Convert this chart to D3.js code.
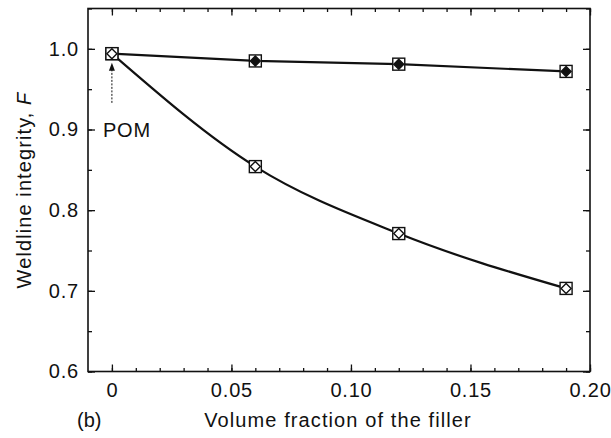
<!DOCTYPE html>
<meta charset="utf-8">
<style>
  body { margin: 0; background: #fff; }
  svg text { font-family: "Liberation Sans", Arial, sans-serif; fill: #111; }
</style>
<body>
<script src="https://cdn.jsdelivr.net/npm/d3@7"></script>
<script>
// data
var fillerX = [0, 0.06, 0.12, 0.19];
var fUpper = [0.994, 0.985, 0.981, 0.972];   // filled diamond series
var fLower = [0.994, 0.854, 0.771, 0.703];   // open diamond series
var xTickVals = [0, 0.05, 0.10, 0.15, 0.20];
var xTickLabels = ["0", "0.05", "0.10", "0.15", "0.20"];
var yTickVals = [0.6, 0.7, 0.8, 0.9, 1.0];
var yTickLabels = ["0.6", "0.7", "0.8", "0.9", "1.0"];

var W = 611, H = 438;
var pLeft = 88, pRight = 590, pTop = 8.5, pBottom = 371.5;
var fs = 20;

var x = d3.scaleLinear().domain([-0.01, 0.20]).range([pLeft, pRight]),
    y = d3.scaleLinear().domain([0.6, 1.05]).range([pBottom, pTop]);

var svg = d3.select("body").append("svg")
  .attr("width", W).attr("height", H);

svg.append("rect").attr("width", W).attr("height", H).attr("fill", "#fff");

// minor ticks every 0.01 in x, 0.05 in y
var xMinor = d3.range(0, 0.2001, 0.01), yMinor = d3.range(0.6, 1.0501, 0.05);

function styleAxis(g) {
  g.select(".domain").remove();
  g.selectAll("line").attr("stroke", "#111").attr("stroke-width", 1.3);
  g.selectAll("text").attr("font-size", fs).attr("fill", "#111")
    .attr("letter-spacing", 0.8)
    .style("font-family", "'Liberation Sans', Arial, sans-serif");
}

// bottom & top
svg.append("g").attr("transform", "translate(0," + pBottom + ")")
  .call(d3.axisBottom(x).tickValues(xMinor).tickSize(-3.5).tickFormat(""))
  .call(styleAxis);
svg.append("g").attr("transform", "translate(0," + pBottom + ")")
  .call(d3.axisBottom(x).tickValues(xTickVals).tickSize(-7).tickPadding(11)
    .tickFormat(function(d, i){ return xTickLabels[i]; }))
  .call(styleAxis);
svg.append("g").attr("transform", "translate(0," + pTop + ")")
  .call(d3.axisTop(x).tickValues(xMinor).tickSize(-3.5).tickFormat(""))
  .call(styleAxis);
svg.append("g").attr("transform", "translate(0," + pTop + ")")
  .call(d3.axisTop(x).tickValues(xTickVals).tickSize(-7).tickFormat(""))
  .call(styleAxis);

// left & right
svg.append("g").attr("transform", "translate(" + pLeft + ",0)")
  .call(d3.axisLeft(y).tickValues(yMinor).tickSize(-4).tickFormat(""))
  .call(styleAxis);
svg.append("g").attr("transform", "translate(" + pLeft + ",0)")
  .call(d3.axisLeft(y).tickValues(yTickVals).tickSize(-7).tickPadding(9)
    .tickFormat(function(d, i){ return yTickLabels[i]; }))
  .call(styleAxis);
svg.append("g").attr("transform", "translate(" + pRight + ",0)")
  .call(d3.axisRight(y).tickValues(yMinor).tickSize(-4).tickFormat(""))
  .call(styleAxis);
svg.append("g").attr("transform", "translate(" + pRight + ",0)")
  .call(d3.axisRight(y).tickValues(yTickVals).tickSize(-7).tickFormat(""))
  .call(styleAxis);

// frame
svg.append("rect")
  .attr("x", pLeft).attr("y", pTop)
  .attr("width", pRight - pLeft).attr("height", pBottom - pTop)
  .attr("fill", "none").attr("stroke", "#111").attr("stroke-width", 1.6);

// curves
var upper = fillerX.map(function(v, i){ return [v, fUpper[i]]; }),
    lower = fillerX.map(function(v, i){ return [v, fLower[i]]; });

function drawLine(pts, curve) {
  var line = d3.line()
    .x(function(d){ return x(d[0]); })
    .y(function(d){ return y(d[1]); })
    .curve(curve);
  svg.append("path").datum(pts).attr("d", line)
    .attr("fill", "none").attr("stroke", "#111").attr("stroke-width", 2.2);
}
drawLine(upper, d3.curveLinear);
drawLine(lower, d3.curveMonotoneX);

// markers: square with diamond inside
var s = 6, dm = 5;
function marker(px, py, filled) {
  var g = svg.append("g").attr("transform", "translate(" + px + "," + py + ")");
  g.append("rect").attr("x", -s).attr("y", -s).attr("width", 2 * s).attr("height", 2 * s)
    .attr("fill", "#fff").attr("stroke", "#111").attr("stroke-width", 1.4);
  g.append("path").attr("d", "M0," + (-dm) + "L" + dm + ",0L0," + dm + "L" + (-dm) + ",0Z")
    .attr("fill", filled ? "#111" : "#fff").attr("stroke", "#111").attr("stroke-width", 1.4);
}
upper.forEach(function(d){ marker(x(d[0]), y(d[1]), true); });
lower.forEach(function(d){ marker(x(d[0]), y(d[1]), false); });

// POM annotation
var ax = x(0), tipY = y(fLower[0]) + 9, tailY = y(0.933);
svg.append("line").attr("x1", ax).attr("x2", ax).attr("y1", tailY).attr("y2", tipY + 6)
  .attr("stroke", "#111").attr("stroke-width", 1).attr("stroke-dasharray", "2,1.5");
svg.append("path")
  .attr("d", "M" + ax + "," + tipY + "L" + (ax + 3) + "," + (tipY + 8) + "L" + (ax - 3) + "," + (tipY + 8) + "Z")
  .attr("fill", "#111");
svg.append("text").attr("x", ax - 9).attr("y", y(0.9)).attr("dy", "0.35em")
  .attr("font-size", fs).attr("letter-spacing", 0.8).text("POM");

// axis titles
svg.append("text").attr("x", 338).attr("y", 427)
  .attr("text-anchor", "middle").attr("font-size", fs).attr("letter-spacing", 1.1)
  .text("Volume fraction of the filler");
svg.append("text").attr("x", 77).attr("y", 427).attr("font-size", fs).text("(b)");

var yl = svg.append("text")
  .attr("transform", "translate(31," + ((pTop + pBottom) / 2) + ") rotate(-90)")
  .attr("text-anchor", "middle").attr("font-size", fs).attr("letter-spacing", 1.1);
yl.append("tspan").text("Weldline integrity, ");
yl.append("tspan").attr("font-style", "italic").text("F");
</script>
</body>
